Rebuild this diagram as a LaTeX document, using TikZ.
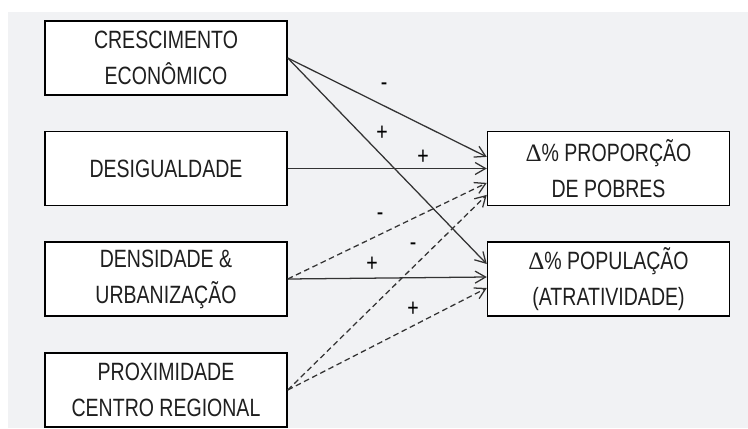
\documentclass[tikz,border=0pt]{standalone}
\usepackage{fontspec}
\setmainfont{Liberation Sans}[FakeStretch=0.78]
\newfontfamily\deltafont{Liberation Serif}
\usepackage{tikz}
\usetikzlibrary{arrows.meta}
\definecolor{fundo}{HTML}{F1F2F4}
\definecolor{linha}{HTML}{333333}
\newcommand{\varia}{{\deltafont Δ}}
\tikzset{
  caixa/.style={draw=black, line width=1pt, fill=white, minimum width=6.05cm,
    minimum height=1.85cm, align=center, inner sep=0pt, text=black!88,
    font=\fontsize{17.8}{25.6}\selectfont},
  seta/.style={->, draw=linha, line width=0.9pt},
  tracejada/.style={seta, dash pattern=on 4pt off 2.5pt},
  sinal/.style={font=\fontsize{17.8}{20}\selectfont, inner sep=0pt},
  >={Straight Barb[length=2.6mm,width=3mm]}
}

\begin{document}
\begin{tikzpicture}[x=0.025cm,y=-0.025cm]
\useasboundingbox (0,0) rectangle (748,428);
\fill[fundo] (8,12) rectangle (748,428);
% caixas da esquerda
\node[caixa] (crescimento) at (166,58) {CRESCIMENTO\\ECONÔMICO};
\node[caixa] (desigualdade) at (166,168.5) {DESIGUALDADE};
\node[caixa] (densidade) at (166,279) {DENSIDADE \&\\URBANIZAÇÃO};
\node[caixa] (proximidade) at (166,390) {PROXIMIDADE\\CENTRO REGIONAL};
% caixas da direita
\node[caixa] (pobres) at (608.5,168.5) {\varia\% PROPORÇÃO\\DE POBRES};
\node[caixa] (populacao) at (608.5,279) {\varia\% POPULAÇÃO\\(ATRATIVIDADE)};
% setas
\draw[seta] (crescimento.east) -- ([yshift=0.29cm]pobres.west);
\draw[seta] (crescimento.east) -- ([yshift=0.375cm]populacao.west);
\draw[seta] (desigualdade.east) -- (pobres.west);
\draw[tracejada] (densidade.east) -- ([yshift=-0.36cm]pobres.west);
\draw[seta] (densidade.east) -- ([yshift=0.05cm]populacao.west);
\draw[tracejada] (proximidade.east) -- ([yshift=-0.66cm]pobres.west);
\draw[tracejada] (proximidade.east) -- ([yshift=-0.225cm]populacao.west);
% sinais
\node[sinal] (m1) at (384,87) {-};
\node[sinal] (p1) at (382,133) {+};
\node[sinal] (p2) at (423,157) {+};
\node[sinal] (m2) at (380,217) {-};
\node[sinal] (m3) at (413,247) {-};
\node[sinal] (p3) at (372,264) {+};
\node[sinal] (p4) at (413,309) {+};
\end{tikzpicture}
\end{document}
